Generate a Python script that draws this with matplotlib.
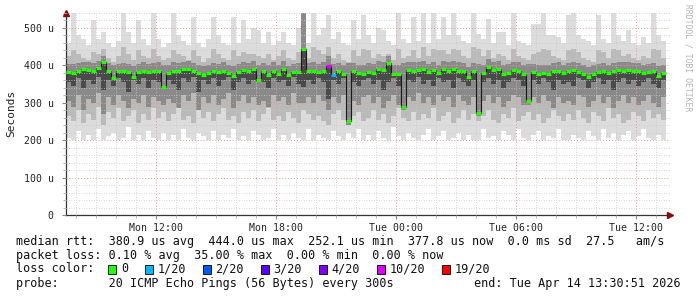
import matplotlib
matplotlib.use("Agg")
import matplotlib.pyplot as plt
from matplotlib.patches import Rectangle
import numpy as np

# 15-minute slots starting Mon 07:30 (hours from start)
slot_h = 0.25

med = [382, 380, 384, 390, 388, 385, 392, 408, 385, 365, 384, 385, 381, 370, 382, 386, 383, 385, 386, 343,
       380, 386, 384, 389, 390, 384, 380, 375, 380, 384, 383, 386, 380, 372, 381, 388, 384, 390, 362, 384,
       375, 386, 378, 390, 375, 382, 383, 444, 384, 384, 381, 386, 398, 373, 384, 378, 252, 384, 380, 378,
       383, 380, 390, 388, 405, 378, 378, 290, 388, 386, 387, 389, 382, 387, 380, 389, 386, 391, 386, 384,
       370, 384, 272, 380, 395, 388, 390, 378, 380, 388, 385, 378, 305, 382, 377, 379, 378, 384, 386, 380,
       385, 388, 383, 378, 370, 376, 382, 384, 380, 384, 388, 386, 387, 385, 384, 380, 381, 384, 372, 380]

# pings lost out of 20 per slot
loss = [0] * 120
loss[52] = 7
loss[53] = 1

# smoke bands, outermost to innermost
hi = [460, 540, 480, 470, 455, 520, 470, 490, 460, 450, 465, 540, 490, 460, 520, 470, 455, 540, 470, 450,
      460, 540, 480, 465, 455, 530, 460, 450, 470, 530, 480, 460, 455, 530, 460, 520, 470, 500, 495, 460,
      490, 455, 465, 490, 460, 455, 500, 540, 460, 540, 480, 500, 535, 470, 490, 460, 455, 520, 470, 535,
      480, 460, 500, 495, 465, 455, 540, 470, 460, 530, 465, 540, 460, 540, 470, 530, 480, 540, 480, 465,
      460, 540, 485, 470, 525, 460, 490, 490, 455, 540, 465, 460, 455, 510, 510, 540, 480, 480, 475, 460,
      535, 540, 480, 470, 465, 455, 535, 470, 460, 540, 480, 465, 495, 460, 455, 475, 460, 540, 480, 465]

lo = [205, 200, 225, 200, 215, 200, 230, 200, 210, 220, 200, 205, 235, 200, 215, 200, 225, 205, 200, 220,
      200, 215, 200, 230, 205, 200, 220, 210, 200, 225, 200, 215, 205, 230, 200, 210, 200, 225, 215, 200,
      205, 230, 200, 215, 200, 220, 205, 200, 230, 200, 215, 205, 200, 225, 210, 200, 220, 205, 230, 200,
      215, 200, 225, 205, 200, 235, 210, 200, 220, 205, 200, 215, 230, 200, 210, 225, 200, 205, 220, 200,
      215, 200, 200, 230, 205, 210, 200, 225, 215, 200, 230, 205, 200, 215, 225, 200, 210, 205, 230, 200,
      200, 215, 205, 200, 225, 210, 200, 230, 205, 220, 200, 215, 225, 200, 210, 230, 205, 200, 215, 200]

hi2 = [425, 440, 430, 420, 415, 435, 430, 445, 420, 410, 425, 450, 430, 415, 440, 425, 420, 445, 425, 415,
       420, 440, 430, 425, 415, 440, 425, 410, 420, 445, 430, 420, 415, 440, 425, 435, 430, 430, 425, 420,
       430, 415, 425, 440, 420, 415, 435, 470, 420, 450, 440, 430, 450, 420, 430, 415, 410, 440, 425, 445,
       440, 420, 430, 425, 430, 415, 445, 420, 425, 440, 420, 450, 425, 445, 440, 440, 430, 445, 440, 425,
       420, 450, 445, 425, 440, 420, 430, 425, 415, 445, 425, 420, 415, 430, 435, 445, 440, 425, 420, 415,
       440, 445, 435, 420, 415, 410, 440, 435, 420, 445, 440, 425, 430, 420, 415, 425, 420, 445, 440, 420]

lo2 = [265, 250, 280, 245, 270, 255, 290, 240, 275, 260, 285, 250, 265, 280, 245, 270, 255, 285, 260, 275,
       250, 270, 285, 255, 265, 245, 280, 260, 275, 250, 270, 285, 255, 265, 245, 275, 260, 280, 250, 270,
       285, 255, 265, 250, 275, 260, 245, 280, 270, 255, 265, 250, 240, 270, 280, 255, 245, 265, 275, 250,
       260, 280, 255, 270, 245, 265, 285, 260, 250, 275, 255, 270, 260, 285, 250, 265, 275, 245, 260, 280,
       255, 270, 250, 265, 280, 255, 245, 270, 260, 285, 250, 265, 275, 255, 270, 245, 260, 280, 265, 250,
       270, 255, 280, 260, 245, 275, 265, 250, 285, 260, 270, 245, 255, 275, 265, 250, 280, 260, 270, 255]

hi3 = [403, 403, 406, 410, 408, 406, 413, 426, 406, 400, 404, 406, 403, 398, 404, 408, 404, 406, 408, 400,
       402, 408, 406, 410, 412, 406, 402, 398, 402, 406, 404, 408, 402, 398, 404, 410, 406, 412, 400, 406,
       400, 408, 402, 412, 398, 404, 406, 540, 406, 408, 404, 408, 425, 404, 406, 402, 406, 406, 402, 402,
       406, 403, 412, 410, 426, 402, 400, 406, 410, 408, 408, 412, 404, 408, 402, 412, 408, 413, 408, 406,
       396, 406, 404, 402, 416, 410, 412, 402, 404, 410, 408, 402, 404, 404, 400, 402, 402, 406, 408, 402,
       406, 410, 406, 402, 396, 400, 404, 406, 402, 406, 410, 408, 408, 406, 406, 402, 404, 406, 398, 402]

lo3 = [305, 290, 320, 280, 310, 300, 325, 270, 315, 295, 320, 305, 285, 310, 300, 320, 290, 315, 305, 295,
       310, 300, 285, 320, 305, 325, 280, 315, 300, 320, 295, 310, 325, 285, 305, 320, 300, 315, 295, 305,
       290, 320, 305, 315, 295, 325, 300, 300, 315, 300, 320, 305, 280, 315, 300, 320, 240, 305, 295, 315,
       320, 300, 315, 285, 305, 320, 295, 280, 315, 305, 325, 300, 315, 295, 320, 305, 315, 290, 320, 305,
       295, 315, 265, 305, 320, 300, 315, 290, 305, 320, 315, 295, 295, 315, 300, 320, 305, 285, 315, 300,
       305, 295, 320, 315, 290, 305, 320, 300, 315, 285, 305, 320, 300, 315, 295, 305, 320, 300, 290, 315]

# darkest core, drawn from core_lo up to the median
core_lo = [355, 345, 365, 340, 360, 350, 370, 335, 360, 345, 365, 355, 330, 360, 350, 365, 340, 360, 355, 343,
           360, 350, 335, 365, 355, 370, 330, 360, 350, 365, 345, 360, 370, 335, 355, 365, 350, 360, 355, 355,
           340, 365, 355, 360, 345, 370, 350, 342, 360, 350, 365, 355, 310, 360, 350, 365, 252, 355, 345, 360,
           365, 350, 360, 335, 355, 365, 345, 290, 360, 355, 370, 350, 360, 345, 365, 355, 360, 340, 365, 355,
           345, 360, 272, 355, 365, 350, 360, 340, 355, 365, 360, 345, 305, 360, 350, 365, 355, 335, 360, 350,
           355, 345, 365, 360, 340, 355, 365, 350, 360, 335, 355, 365, 350, 360, 345, 355, 365, 350, 340, 360]

tick_pos = [4.5, 10.5, 16.5, 22.5, 28.5]
tick_labels = ["Mon 12:00", "Mon 18:00", "Tue 00:00", "Tue 06:00", "Tue 12:00"]
y_ticks = [0, 100, 200, 300, 400, 500]
y_labels = ["0", "100 u", "200 u", "300 u", "400 u", "500 u"]

loss_levels = ["0", "1/20", "2/20", "3/20", "4/20", "10/20", "19/20"]
loss_colors = ["#26ff00", "#00b8ff", "#0059ff", "#5e00ff", "#7e00ff", "#dd00ff", "#ff0000"]


def loss_color(n):
    if n == 0:
        return loss_colors[0]
    if n <= 4:
        return loss_colors[n]
    if n <= 10:
        return loss_colors[5]
    return loss_colors[6]


mono = "DejaVu Sans Mono"
W, H = 697, 297
fig = plt.figure(figsize=(W / 100, H / 100), dpi=100)
ax = fig.add_axes([66 / W, (H - 215) / H, 604 / W, 202 / H])

n = len(med)
x = np.arange(n) * slot_h + slot_h / 2
med = np.array(med)


def band(top, bottom, color, z):
    top = np.array(top)
    bottom = np.array(bottom)
    ax.bar(x, top - bottom, bottom=bottom, width=slot_h, color=color, lw=0, zorder=z)


band(hi, lo, "#dcdcdc", 1.0)
band(hi2, lo2, "#bababa", 1.1)
band(hi3, lo3, "#8a8a8a", 1.2)
band(med, core_lo, "#4a4a4a", 1.3)

# median: dark step connectors, then loss-coloured segments
ax.step(x, med, where="mid", color="#1a1a1a", lw=0.8, zorder=3)
cols = [loss_color(v) for v in loss]
ax.hlines(med, x - slot_h * 0.42, x + slot_h * 0.42, colors=cols, lw=2.3, zorder=4)

ax.set_xlim(0, 30.2)
ax.set_ylim(0, 540)
ax.set_xticks(tick_pos)
ax.set_xticklabels(tick_labels, fontsize=7.1, family=mono, color="#222222")
ax.set_xticks(np.arange(0.5, 30.2, 1.0), minor=True)
ax.set_yticks(y_ticks)
ax.set_yticklabels(y_labels, fontsize=7.1, family=mono, color="#222222")
ax.set_yticks(np.arange(0, 541, 20), minor=True)

ax.set_axisbelow(False)
ax.grid(which="minor", color="#c8c8c8", linestyle=(0, (1, 2)), lw=0.6)
ax.grid(which="major", color="#e49a9a", linestyle=(0, (1, 2)), lw=0.7)
ax.tick_params(which="major", length=3, color="#888888", pad=3)
ax.tick_params(which="minor", length=2, color="#aaaaaa")
ax.tick_params(axis="y", pad=6)

for s in ["top", "right"]:
    ax.spines[s].set_visible(False)
for s in ["left", "bottom"]:
    ax.spines[s].set_color("#333333")
    ax.spines[s].set_linewidth(0.9)

# axis arrows
ax.plot([0], [1.0], marker="^", color="#a00000", markersize=4, transform=ax.transAxes, clip_on=False)
ax.plot([1.0], [0], marker=">", color="#a00000", markersize=4, transform=ax.transAxes, clip_on=False)

fig.text(11 / W, 1 - 113 / H, "Seconds", rotation=90, ha="center", va="center",
         fontsize=8, family=mono, color="#222222")
fig.text(688 / W, 1 - 4 / H, "RRDTOOL / TOBI OETIKER", rotation=-90, ha="center", va="top",
         fontsize=5.8, family=mono, color="#b4b4b4")

cw = 7.1
x0 = 16
line1 = "median rtt:  380.9 us avg  444.0 us max  252.1 us min  377.8 us now  0.0 ms sd  27.5   am/s"
line2 = "packet loss: 0.10 % avg  35.00 % max  0.00 % min  0.00 % now"
line4 = "probe:       20 ICMP Echo Pings (56 Bytes) every 300s"
fs = 8.5
txt = dict(fontsize=fs, family=mono, va="center", ha="left", color="#111111")
fig.text(x0 / W, 1 - 241 / H, line1, **txt)
fig.text(x0 / W, 1 - 255 / H, line2, **txt)
fig.text(x0 / W, 1 - 269 / H, "loss color:", **txt)
fig.text(x0 / W, 1 - 283 / H, line4, **txt)
fig.text(681 / W, 1 - 283 / H, "end: Tue Apr 14 13:30:51 2026", fontsize=fs, family=mono,
         va="center", ha="right", color="#111111")

px = 108.3
for lab, c in zip(loss_levels, loss_colors):
    fig.patches.append(Rectangle((px / W, 1 - 273.5 / H), 8 / W, 8.5 / H,
                                 transform=fig.transFigure, facecolor=c, edgecolor="#000000", lw=0.6))
    fig.text((px + 12.5) / W, 1 - 269 / H, lab, **txt)
    px += 29.6 + len(lab) * cw

fig.savefig("out.png", dpi=100)
